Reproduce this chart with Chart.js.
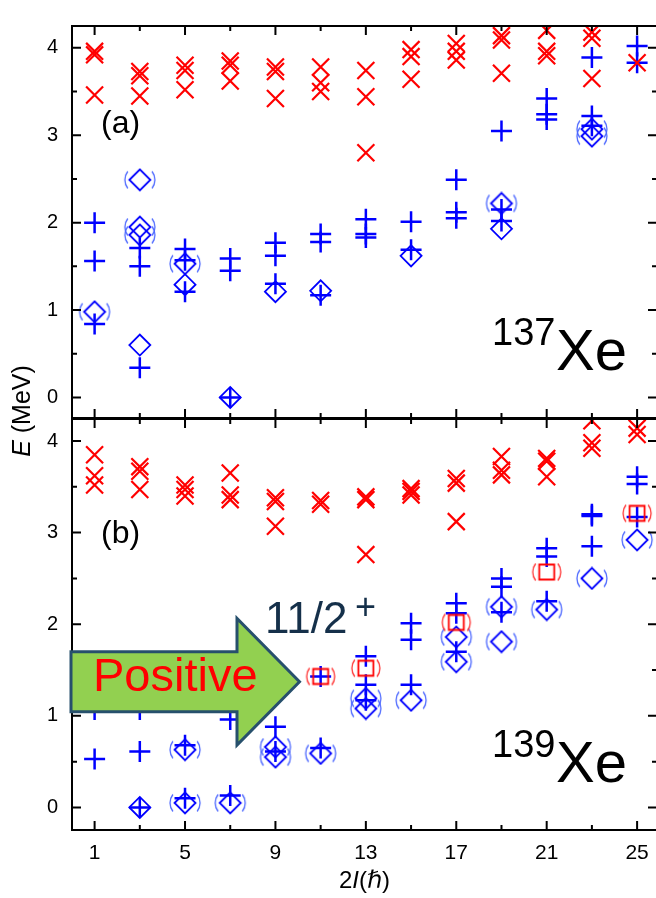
<!DOCTYPE html>
<html>
<head>
<meta charset="utf-8">
<script src="https://cdn.jsdelivr.net/npm/chart.js@4.4.1/dist/chart.umd.min.js"></script>
<style>
  html, body { margin: 0; padding: 0; background: #fff; }
  body { width: 656px; height: 898px; overflow: hidden; position: relative; }
  canvas { position: absolute; left: 0; top: 0; }
</style>
</head>
<body>
<canvas id="panelA" width="680" height="898"></canvas>
<canvas id="panelB" width="680" height="898"></canvas>
<script>
// ticks
const spinTicks = [1, 3, 5, 7, 9, 11, 13, 15, 17, 19, 21, 23, 25];
const energyTicks = [0, 0.5, 1, 1.5, 2, 2.5, 3, 3.5, 4];

// (a) 137Xe   [2I, E (MeV)]
const a137Cross = [[1,3.96],[1,3.92],[1,3.46],[3,3.73],[3,3.68],[3,3.45],[5,3.80],[5,3.74],[5,3.52],
  [7,3.85],[7,3.80],[7,3.62],[9,3.78],[9,3.73],[9,3.42],[11,3.78],[11,3.60],[11,3.50],
  [13,3.74],[13,3.44],[13,2.80],[15,3.98],[15,3.90],[15,3.64],[17,4.05],[17,3.96],[17,3.86],
  [19,4.14],[19,4.09],[19,3.71],[21,4.20],[21,3.96],[21,3.91],[23,4.18],[23,4.11],[23,3.65],[25,3.83]];
const a137Plus = [[1,2.00],[1,1.56],[1,0.84],[3,1.71],[3,1.50],[3,0.34],[5,1.70],[5,1.57],[5,1.21],
  [7,1.59],[7,1.45],[7,0.00],[9,1.77],[9,1.62],[9,1.30],[11,1.87],[11,1.78],[11,1.17],
  [13,2.04],[13,1.87],[13,1.83],[15,2.01],[15,1.69],[17,2.49],[17,2.12],[17,2.05],
  [19,3.05],[19,2.15],[19,2.02],[21,3.42],[21,3.24],[21,3.18],[23,3.89],[23,3.22],[23,3.11],[25,4.02],[25,3.83]];
const a137Diamond = [[3,0.60],[5,1.29],[7,0.00],[9,1.21],[11,1.22],[15,1.62],[19,1.93]];
const a137ParenDiamond = [[1,0.98],[3,2.49],[3,1.95],[3,1.86],[5,1.53],[19,2.22],[23,3.07],[23,2.99]];

// (b) 139Xe
const b139Cross = [[1,3.85],[1,3.62],[1,3.52],[3,3.72],[3,3.67],[3,3.47],[5,3.52],[5,3.47],[5,3.40],
  [7,3.65],[7,3.41],[7,3.36],[9,3.38],[9,3.34],[9,3.07],[11,3.35],[11,3.31],
  [13,3.39],[13,3.36],[13,2.76],[15,3.48],[15,3.45],[15,3.41],[17,3.59],[17,3.54],[17,3.12],
  [19,3.83],[19,3.68],[19,3.63],[21,3.81],[21,3.78],[21,3.61],[23,4.22],[23,3.98],[23,3.92],[25,4.14],[25,4.07]];
const b139Plus = [[1,1.07],[1,0.53],[3,1.07],[3,0.61],[3,0.00],[5,0.68],[5,0.10],[7,0.96],[7,0.13],
  [9,0.88],[9,0.61],[11,1.43],[11,0.65],[13,1.65],[13,1.34],[13,1.17],[15,2.01],[15,1.83],[15,1.34],
  [17,2.23],[17,2.12],[17,1.70],[19,2.50],[19,2.41],[19,2.13],[21,2.83],[21,2.74],[21,2.25],
  [23,3.20],[23,3.18],[23,2.85],[25,3.61],[25,3.53],[25,3.17]];
const b139Diamond = [[3,0.00]];
const b139ParenDiamond = [[5,0.63],[5,0.05],[7,0.05],[9,0.66],[9,0.55],[11,0.59],[13,1.19],[13,1.08],
  [15,1.17],[17,1.86],[17,1.59],[19,2.19],[19,1.81],[21,2.16],[23,2.50],[25,2.92]];
const b139ParenSquare = [[11,1.43],[13,1.52],[17,2.02],[21,2.57],[25,3.21]];

const RED = '#ff0000';
const BLUE = '#0000ff';
const FONT = '"Liberation Sans", Arial, "DejaVu Sans", sans-serif';

// marker with round brackets around it
function parenMarker(shape, color, parenColor) {
  const c = document.createElement('canvas');
  c.width = 36; c.height = 24;
  const g = c.getContext('2d');
  const cx = 18, cy = 12;
  g.strokeStyle = color;
  g.lineWidth = 1.8;
  g.beginPath();
  if (shape === 'diamond') {
    g.moveTo(cx - 10.5, cy); g.lineTo(cx, cy - 10.5); g.lineTo(cx + 10.5, cy); g.lineTo(cx, cy + 10.5);
    g.closePath();
  } else {
    g.rect(cx - 7.5, cy - 7.5, 15, 15);
  }
  g.stroke();
  g.strokeStyle = parenColor;
  g.lineWidth = 1.3;
  const R = 14, th = Math.asin(8.5 / R), off = shape === 'diamond' ? 15 : 14;
  g.beginPath(); g.arc(cx - off + R, cy, R, Math.PI - th, Math.PI + th); g.stroke();
  g.beginPath(); g.arc(cx + off - R, cy, R, -th, th); g.stroke();
  return c;
}
const parenDiamondImg = parenMarker('diamond', BLUE, '#4a66ff');
const parenSquareImg = parenMarker('square', RED, '#ff3030');

function pts(arr) { return arr.map(p => ({x: p[0], y: p[1]})); }

function ds(arr, style, color, radius, width) {
  return {
    data: pts(arr),
    pointStyle: style,
    pointRadius: radius,
    borderColor: color,
    backgroundColor: 'rgba(0,0,0,0)',
    pointBorderWidth: width,
    showLine: false,
    clip: 0
  };
}

const frameTicks = {
  id: 'frameTicks',
  afterDatasetsDraw(chart) {
    const {ctx, chartArea: ca} = chart;
    const x = chart.scales.x, y = chart.scales.y;
    ctx.save();
    ctx.strokeStyle = '#000';
    ctx.lineWidth = 2;
    ctx.strokeRect(ca.left, ca.top, ca.right - ca.left, ca.bottom - ca.top);
    ctx.beginPath();
    spinTicks.forEach(v => {
      const px = x.getPixelForValue(v);
      const len = (v - 1) % 4 === 0 ? 9 : 5;
      ctx.moveTo(px, ca.top); ctx.lineTo(px, ca.top + len);
      ctx.moveTo(px, ca.bottom); ctx.lineTo(px, ca.bottom - len);
    });
    energyTicks.forEach(v => {
      const py = y.getPixelForValue(v);
      const len = Number.isInteger(v) ? 9 : 5;
      ctx.moveTo(ca.left, py); ctx.lineTo(ca.left + len, py);
      ctx.moveTo(ca.right, py); ctx.lineTo(ca.right - len, py);
    });
    ctx.stroke();
    ctx.restore();
  }
};

function drawRich(ctx, parts, x, y) {
  let cx = x;
  parts.forEach(p => {
    ctx.font = p[1];
    ctx.fillText(p[0], cx, y);
    cx += ctx.measureText(p[0]).width;
  });
}
function richWidth(ctx, parts) {
  let w = 0;
  parts.forEach(p => { ctx.font = p[1]; w += ctx.measureText(p[0]).width; });
  return w;
}

const notes = {
  id: 'notes',
  afterDatasetsDraw(chart, args, opts) {
    const ctx = chart.ctx;
    ctx.save();
    ctx.textBaseline = 'alphabetic';
    ctx.textAlign = 'left';
    ctx.fillStyle = '#000';
    if (opts.panel === 'a') {
      ctx.font = '32px ' + FONT; ctx.fillText('(a)', 101, 133);
      ctx.font = '38px ' + FONT; ctx.fillText('137', 492, 345);
      ctx.font = '58px ' + FONT; ctx.fillText('Xe', 556, 370);
    } else {
      ctx.font = '32px ' + FONT; ctx.fillText('(b)', 101, 543);
      ctx.font = '38px ' + FONT; ctx.fillText('139', 492, 757);
      ctx.font = '58px ' + FONT; ctx.fillText('Xe', 556, 782);

      // arrow
      ctx.beginPath();
      ctx.moveTo(71, 651.7); ctx.lineTo(237, 651.7); ctx.lineTo(237, 618.4);
      ctx.lineTo(299.5, 681.7);
      ctx.lineTo(237, 745); ctx.lineTo(237, 711.7); ctx.lineTo(71, 711.7);
      ctx.closePath();
      ctx.fillStyle = '#92d050';
      ctx.fill();
      ctx.strokeStyle = '#27506c';
      ctx.lineWidth = 3;
      ctx.lineJoin = 'miter';
      ctx.stroke();
      ctx.fillStyle = RED;
      ctx.font = '47px ' + FONT; ctx.fillText('Positive', 93, 691);

      ctx.fillStyle = '#15304a';
      ctx.font = '44px ' + FONT; ctx.fillText('11/2', 265, 633);
      ctx.font = '36px ' + FONT; ctx.fillText('+', 355, 619);

      // axis titles
      ctx.fillStyle = '#000';
      const xt = [['2', '24px ' + FONT], ['I', 'italic 24px ' + FONT], ['(', '24px ' + FONT],
                  ['\u210F', 'italic 24px ' + FONT], [')', '24px ' + FONT]];
      drawRich(ctx, xt, 364.5 - richWidth(ctx, xt) / 2, 888);
      const yt = [['E', 'italic 25px ' + FONT], [' (MeV)', '25px ' + FONT]];
      ctx.translate(30, 411);
      ctx.rotate(-Math.PI / 2);
      drawRich(ctx, yt, -richWidth(ctx, yt) / 2, 0);
    }
    ctx.restore();
  }
};

function makePanel(id, panel, datasets, yMin, yMax, padTop, padBottom, xHeight) {
  return new Chart(document.getElementById(id), {
    type: 'scatter',
    data: {datasets: datasets},
    plugins: [frameTicks, notes],
    options: {
      responsive: false,
      devicePixelRatio: 1,
      animation: false,
      events: [],
      layout: {padding: {top: padTop, right: 23, bottom: padBottom, left: 0}},
      plugins: {legend: {display: false}, tooltip: {enabled: false}, notes: {panel: panel}},
      scales: {
        x: {
          type: 'linear', min: 0, max: 25.88,
          afterBuildTicks: s => { s.ticks = spinTicks.map(v => ({value: v})); },
          afterFit: s => { s.height = xHeight; },
          grid: {display: false, drawTicks: false},
          border: {display: false},
          ticks: {
            display: panel === 'b',
            padding: 11,
            color: '#000',
            font: {family: FONT, size: 21},
            maxRotation: 0,
            autoSkip: false,
            callback: v => ((v - 1) % 4 === 0 ? String(v) : '')
          }
        },
        y: {
          type: 'linear', min: yMin, max: yMax,
          afterBuildTicks: s => { s.ticks = energyTicks.map(v => ({value: v})); },
          afterFit: s => { s.width = 72; },
          grid: {display: false, drawTicks: false},
          border: {display: false},
          ticks: {
            padding: 14,
            color: '#000',
            font: {family: FONT, size: 20},
            autoSkip: false,
            callback: v => (Number.isInteger(v) ? String(v) : '')
          }
        }
      }
    }
  });
}

makePanel('panelA', 'a', [
  ds(a137Cross, 'crossRot', RED, 12, 2.2),
  ds(a137Diamond, 'rectRot', BLUE, 10.5, 1.8),
  ds(a137ParenDiamond, parenDiamondImg, BLUE, 10, 1),
  ds(a137Plus, 'cross', BLUE, 10.5, 2.5)
], -0.235, 4.25, 7, 480, 0);

makePanel('panelB', 'b', [
  ds(b139Cross, 'crossRot', RED, 12, 2.2),
  ds(b139ParenSquare, parenSquareImg, RED, 10, 1),
  ds(b139Diamond, 'rectRot', BLUE, 10.5, 1.8),
  ds(b139ParenDiamond, parenDiamondImg, BLUE, 10, 1),
  ds(b139Plus, 'cross', BLUE, 10.5, 2.5)
], -0.246, 4.24, 419, 0, 68);
</script>
</body>
</html>
